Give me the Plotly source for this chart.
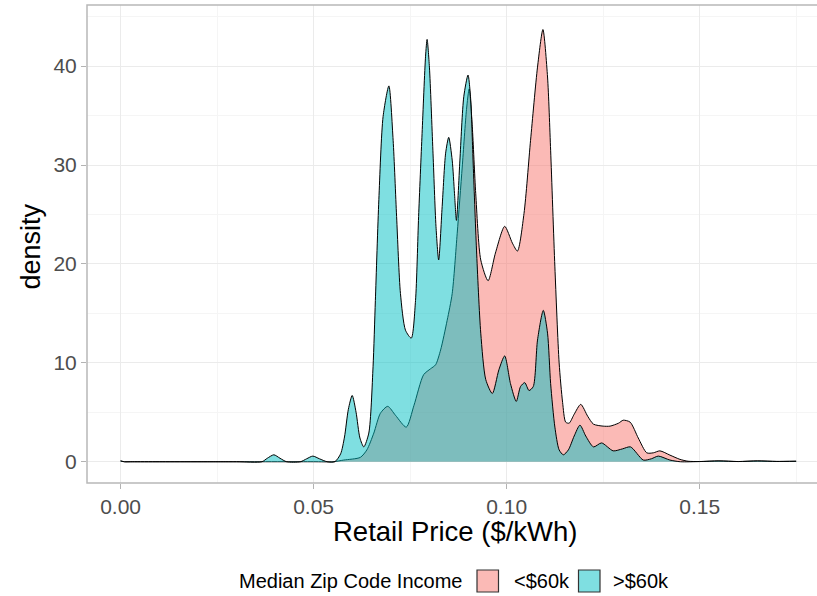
import plotly.graph_objects as go

# ---- data ----
x_lt60 = [0.000, 0.001, 0.003, 0.010, 0.030, 0.050, 0.055, 0.0578, 0.0621, 0.0638, 0.0656, 0.0673, 0.0692,
          0.0712, 0.0740, 0.0760, 0.0785, 0.0803, 0.0816, 0.0829, 0.0846, 0.0859, 0.0872,
          0.0885, 0.0896, 0.0903, 0.0911, 0.0920, 0.0933, 0.0952, 0.0971, 0.0995, 0.1015,
          0.1028, 0.1045, 0.1062, 0.1080, 0.1094, 0.1106, 0.1114, 0.1125, 0.1136, 0.1145,
          0.1153, 0.1162, 0.1175, 0.1192, 0.1210, 0.1225, 0.1250, 0.1268, 0.1290, 0.1302,
          0.1320, 0.1341, 0.1363, 0.1380, 0.1397, 0.1423, 0.1449, 0.1470, 0.1500, 0.1550,
          0.1600, 0.1650, 0.1700, 0.1750]
y_lt60 = [0.08, 0.0, 0.0, 0.0, 0.0, 0.0, 0.0, 0.17, 0.44, 1.2, 2.9, 4.9, 5.6,
          4.7, 3.5, 5.7, 8.8, 9.4, 9.8, 11.3, 14.3, 17.0, 23.1,
          29.8, 35.6, 37.7, 33.9, 27.1, 20.4, 18.3, 21.1, 23.8, 22.1,
          21.3, 25.1, 32.5, 39.9, 43.7, 38.9, 31.5, 19.7, 10.0, 6.0,
          4.0, 3.9, 4.8, 5.8, 4.6, 3.8, 3.6, 3.6, 3.9, 4.2,
          4.0, 2.4, 0.9, 0.9, 1.1, 0.67, 0.24, 0.05, 0.02, 0.08,
          0.02, 0.08, 0.03, 0.05]

x_gt60 = [0.000, 0.001, 0.003, 0.010, 0.030, 0.0366, 0.0380, 0.0397, 0.0413, 0.0430, 0.0466, 0.0482, 0.0498,
          0.0515, 0.0535, 0.0555, 0.0570, 0.0580, 0.0590, 0.0600, 0.0610, 0.0620, 0.0630,
          0.0643, 0.0654, 0.0660, 0.0669, 0.0680, 0.0695, 0.0706, 0.0715, 0.0725, 0.0738,
          0.0753, 0.0764, 0.0772, 0.0781, 0.0790, 0.0794, 0.0800, 0.0809, 0.0817, 0.0824,
          0.0833, 0.0842, 0.0850, 0.0859, 0.0865, 0.0870, 0.0879, 0.0889, 0.0900, 0.0907,
          0.0913, 0.0922, 0.0933, 0.0946, 0.0963, 0.0980, 0.0995, 0.1010, 0.1025, 0.1036,
          0.1047, 0.1058, 0.1069, 0.1080, 0.1095, 0.1106, 0.1114, 0.1125, 0.1136, 0.1147,
          0.1160, 0.1175, 0.1190, 0.1205, 0.1225, 0.1246, 0.1276, 0.1300, 0.1321, 0.1354,
          0.1375, 0.1393, 0.1423, 0.1450, 0.1500, 0.1550, 0.1600, 0.1650, 0.1700, 0.1750]
y_gt60 = [0.08, 0.0, 0.0, 0.0, 0.0, 0.0, 0.35, 0.70, 0.35, 0.0, 0.0, 0.3, 0.57,
          0.3, 0.0, 0.0, 0.8, 2.5, 5.3, 6.7, 5.0, 2.4, 1.5,
          2.9, 9.6, 16.3, 26.5, 34.9, 38.0, 32.5, 24.8, 17.0, 13.3,
          12.5, 16.3, 24.8, 33.2, 41.0, 42.7, 39.9, 31.5, 23.8, 20.4,
          25.8, 31.2, 32.8, 30.5, 27.1, 24.4, 30.5, 36.9, 39.1, 36.6,
          30.5, 21.4, 13.0, 8.3, 6.9, 9.3, 10.7, 7.9, 6.1, 7.6,
          8.0, 7.2, 7.6, 12.3, 15.3, 13.0, 7.9, 3.5, 1.2, 0.7,
          1.2, 2.6, 3.7, 2.6, 1.5, 1.9, 1.1, 1.3, 1.5, 0.17,
          0.3, 0.57, 0.17, 0.0, 0.02, 0.08, 0.02, 0.08, 0.03, 0.05]

group_labels = ["<$60k", ">$60k"]
group_fill = ["rgba(248,118,109,0.5)", "rgba(0,191,196,0.5)"]
x_ticks = [0.00, 0.05, 0.10, 0.15]
x_ticktext = ["0.00", "0.05", "0.10", "0.15"]
y_ticks = [0, 10, 20, 30, 40]

FONT = "Liberation Sans, Arial, sans-serif"

fig = go.Figure()
for xs, ys, name, fc in [(x_lt60, y_lt60, group_labels[0], group_fill[0]),
                         (x_gt60, y_gt60, group_labels[1], group_fill[1])]:
    fig.add_trace(go.Scatter(x=xs, y=ys, mode="lines", fill="tozeroy", fillcolor=fc,
                             line=dict(color="black", width=1, shape="spline", smoothing=0.7),
                             name=name, showlegend=False, hoverinfo="skip"))

# plot area in px: x 87..817, y 5..483
L, R, T, B = 87, 817, 5, 483
W, H = R - L, B - T
def px(x):
    return (x - L) / W
def py(y):
    return (B - y) / H

fig.update_layout(
    width=817, height=596,
    margin=dict(l=L, r=817 - R, t=T, b=596 - B),
    paper_bgcolor="white", plot_bgcolor="white",
    template="none",
    font=dict(family=FONT, color="black"),
    xaxis=dict(range=[-0.0087, 0.1804], tickvals=x_ticks, ticktext=x_ticktext,
               ticks="outside", ticklen=5, tickwidth=1, tickcolor="#B3B3B3",
               tickfont=dict(size=21, color="#4D4D4D", family=FONT),
               showgrid=True, gridcolor="#EBEBEB", gridwidth=1, zeroline=False,
               minor=dict(tickvals=[0.025, 0.075, 0.125, 0.175], showgrid=True,
                          gridcolor="#F5F5F5", gridwidth=1, ticks=""),
               showline=False),
    yaxis=dict(range=[-2.15, 46.18], tickvals=y_ticks,
               ticks="outside", ticklen=5, tickwidth=1, tickcolor="#B3B3B3",
               tickfont=dict(size=21, color="#4D4D4D", family=FONT),
               showgrid=True, gridcolor="#EBEBEB", gridwidth=1, zeroline=False,
               minor=dict(tickvals=[5, 15, 25, 35, 45], showgrid=True,
                          gridcolor="#F5F5F5", gridwidth=1, ticks=""),
               showline=False),
)

# panel border (right side runs off the image, as in the reference)
fig.add_shape(type="rect", xref="paper", yref="paper", x0=0, x1=1.03, y0=0, y1=1,
              line=dict(color="#B8B8B8", width=1.5), fillcolor="rgba(0,0,0,0)", layer="above")

# axis titles
fig.add_annotation(text="Retail Price ($/kWh)", xref="paper", yref="paper",
                   x=px(455.5), y=py(531), xanchor="center", yanchor="middle",
                   showarrow=False, font=dict(size=27.5, color="black", family=FONT))
fig.add_annotation(text="density", xref="paper", yref="paper", textangle=-90,
                   x=px(31), y=py(246.5), xanchor="center", yanchor="middle",
                   showarrow=False, font=dict(size=27, color="black", family=FONT))

# legend (bottom, horizontal)
fig.add_annotation(text="Median Zip Code Income", xref="paper", yref="paper",
                   x=px(464), y=py(581), xanchor="right", yanchor="middle",
                   showarrow=False, font=dict(size=20, color="black", family=FONT))
key_x = [477, 578.5]
lab_x = [511.5, 610.5]
key_col = ["#FBBAB6", "#7FDFE1"]
for kx, lx, name, kc in zip(key_x, lab_x, group_labels, key_col):
    fig.add_shape(type="rect", xref="paper", yref="paper",
                  x0=px(kx), x1=px(kx + 21.5), y0=py(570), y1=py(592),
                  line=dict(color="#333333", width=1.2), fillcolor=kc)
    fig.add_annotation(text=name.replace("<", "&lt;").replace(">", "&gt;"),
                       xref="paper", yref="paper",
                       x=px(lx), y=py(581), xanchor="left", yanchor="middle",
                       showarrow=False, font=dict(size=20, color="black", family=FONT))

fig.write_html("out.html")
